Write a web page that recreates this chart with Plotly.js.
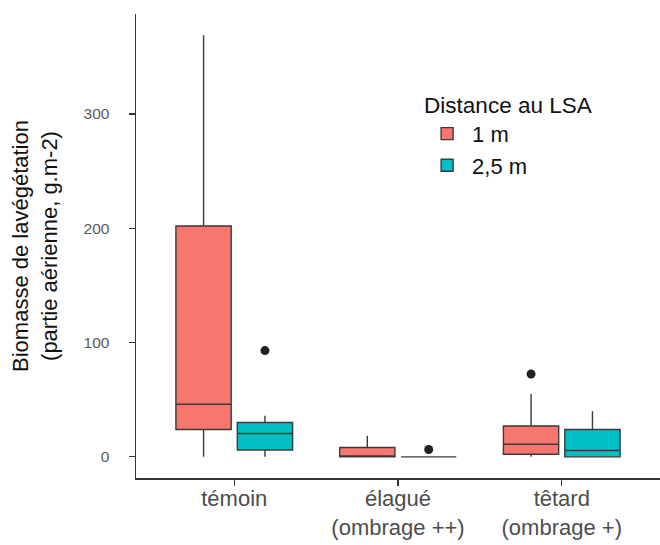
<!DOCTYPE html>
<html>
<head>
<meta charset="utf-8">
<script src="https://cdn.plot.ly/plotly-3.0.1.min.js"></script>
<style>html,body{margin:0;padding:0;background:#fff;}#chart{width:660px;height:545px;}</style>
</head>
<body>
<div id="chart"></div>
<script>
// Categories (traitements)
const categories = ["témoin", "élagué<br>(ombrage ++)", "têtard<br>(ombrage +)"];
const seriesNames = ["1 m", "2,5 m"];
const seriesColors = ["#F8766D", "#00BFC4"];

// Box statistics per series, in category order
const lower1m  = [0, 0, 0];
const q1_1m    = [24, 0, 2.3];
const med1m    = [46, 0.6, 11];
const q3_1m    = [202, 8.2, 27];
const upper1m  = [369, 18.4, 55];

const lower25m = [0, 0, 0];
const q1_25m   = [6, 0, 0];
const med25m   = [20.4, 0, 5.5];
const q3_25m   = [30, 0, 24];
const upper25m = [36, 0, 40];

// Outliers: category index, series index, value
const outlierCat    = [0, 1, 2];
const outlierSeries = [1, 1, 0];
const outlierValue  = [93, 6.4, 72.5];

const stats = [
  {lower: lower1m, q1: q1_1m, med: med1m, q3: q3_1m, upper: upper1m},
  {lower: lower25m, q1: q1_25m, med: med25m, q3: q3_25m, upper: upper25m}
];

const dodge = 0.375;
const boxW = 0.3375;
const pos = (ci, si) => (ci + 1) + (si - 0.5) * dodge;

const traces = stats.map((s, si) => ({
  type: 'box',
  name: seriesNames[si],
  x: categories.map((c, ci) => pos(ci, si)),
  q1: s.q1, median: s.med, q3: s.q3,
  lowerfence: s.lower, upperfence: s.upper,
  width: boxW,
  whiskerwidth: 0,
  fillcolor: seriesColors[si],
  line: {color: '#3a3a3a', width: 1.4},
  hoverinfo: 'skip'
}));

traces.push({
  type: 'scatter',
  mode: 'markers',
  x: outlierCat.map((c, i) => pos(c, outlierSeries[i])),
  y: outlierValue,
  marker: {color: '#222222', size: 9},
  showlegend: false,
  hoverinfo: 'skip'
});

const layout = {
  width: 660, height: 545,
  margin: {l: 136, r: 0, t: 14, b: 67},
  paper_bgcolor: '#ffffff', plot_bgcolor: '#ffffff',
  font: {family: 'Liberation Sans, Arial, sans-serif', color: '#333333'},
  showlegend: true,
  legend: {
    x: 0.546, y: 0.85, xanchor: 'left', yanchor: 'top',
    title: {text: 'Distance au LSA', font: {size: 22.5, color: '#111111'}, side: 'top'},
    font: {size: 22, color: '#111111'},
    itemwidth: 40,
    bgcolor: 'rgba(0,0,0,0)'
  },
  xaxis: {
    range: [0.4, 3.6],
    tickmode: 'array',
    tickvals: [1, 2, 3],
    ticktext: categories,
    ticks: 'outside', ticklen: 6, tickcolor: '#333333', tickwidth: 1.2,
    ticklabelstandoff: -6,
    showline: true, linecolor: '#333333', linewidth: 1.5,
    showgrid: false, zeroline: false,
    tickfont: {size: 22, color: '#4d4d4d'}
  },
  yaxis: {
    range: [-18.5, 387.5],
    tickvals: [0, 100, 200, 300],
    ticks: 'outside', ticklen: 6, tickcolor: '#333333', tickwidth: 1.2,
    ticklabelstandoff: 16,
    showline: true, linecolor: '#333333', linewidth: 1.5,
    showgrid: false, zeroline: false,
    tickfont: {size: 15.5, color: '#5a5a5a'},
    title: {text: 'Biomasse de lavégétation<br>(partie aérienne, g.m-2)', font: {size: 22, color: '#111111'}, standoff: 20}
  }
};

Plotly.newPlot('chart', traces, layout, {displayModeBar: false, staticPlot: true});
</script>
</body>
</html>
